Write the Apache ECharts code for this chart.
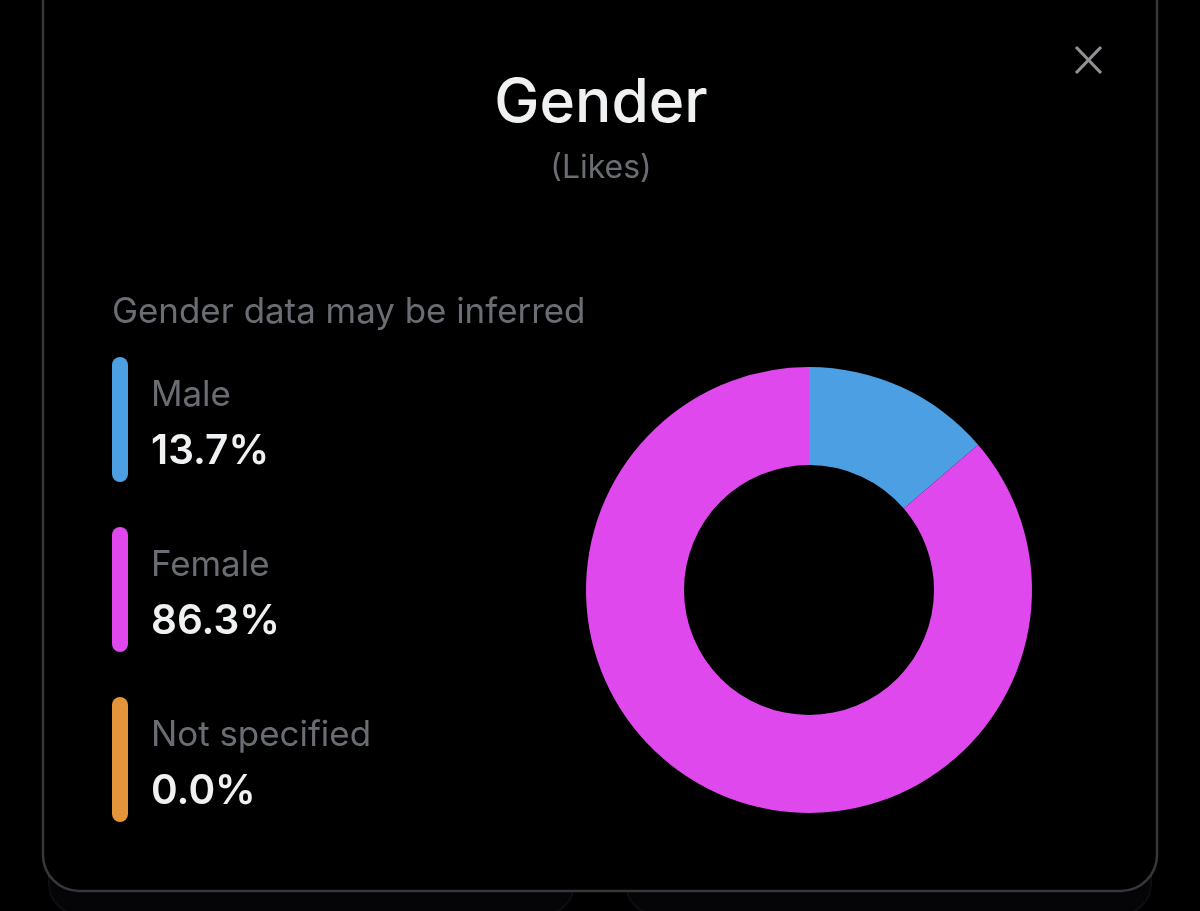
<!DOCTYPE html>
<html>
<head>
<meta charset="utf-8">
<style>
  html, body { margin: 0; padding: 0; background: #000; }
  #main { width: 1200px; height: 911px; }
</style>
<script src="https://cdn.jsdelivr.net/npm/echarts@6/dist/echarts.min.js"></script>
</head>
<body>
<div id="main"></div>
<script>
var categories = ['Male', 'Female', 'Not specified'];
var shares = [13.7, 86.3, 0.0];
var colors = ['#4c9fe3', '#df48ec', '#e4953c'];

var chart = echarts.init(document.getElementById('main'));
var font = 'Inter, "Noto Sans", sans-serif';
var graphic = [];

// cards peeking out under the dialog
graphic.push({ type: 'rect', z: 0, shape: { x: 49, y: 800, width: 525, height: 114, r: 30 },
  style: { fill: '#050507', stroke: '#0c0d10', lineWidth: 2 } });
graphic.push({ type: 'rect', z: 0, shape: { x: 626, y: 800, width: 525, height: 114, r: 30 },
  style: { fill: '#050507', stroke: '#0c0d10', lineWidth: 2 } });
// dialog
graphic.push({ type: 'rect', z: 1, shape: { x: 43, y: -40, width: 1114, height: 931, r: 36 },
  style: { fill: '#000', stroke: '#35373b', lineWidth: 2.5 } });

// close icon
graphic.push({ type: 'line', z: 2, shape: { x1: 1076, y1: 47, x2: 1101, y2: 73 },
  style: { stroke: '#8f9194', lineWidth: 3.2 } });
graphic.push({ type: 'line', z: 2, shape: { x1: 1101, y1: 47, x2: 1076, y2: 73 },
  style: { stroke: '#8f9194', lineWidth: 3.2 } });

graphic.push({ type: 'text', z: 2, x: 112, y: 313, style: {
  text: 'Gender data may be inferred', fill: '#6a6e74', font: '400 34.9px ' + font, textVerticalAlign: 'middle' } });

categories.forEach(function (name, i) {
  var top = 357 + i * 170;
  graphic.push({ type: 'rect', z: 2, shape: { x: 112, y: top, width: 16, height: 125, r: 8 },
    style: { fill: colors[i] } });
  graphic.push({ type: 'text', z: 2, x: 151, y: top + 38.5, style: {
    text: name, fill: '#6a6e74', font: '400 34.9px ' + font, textVerticalAlign: 'middle' } });
  graphic.push({ type: 'text', z: 2, x: 151, y: top + 95, style: {
    text: shares[i].toFixed(1) + '%', fill: '#eff1f2', font: '600 40.5px ' + font, textVerticalAlign: 'middle' } });
});

var option = {
  backgroundColor: '#000',
  animation: false,
  title: {
    text: 'Gender',
    subtext: '(Likes)',
    left: 596,
    top: 68,
    textAlign: 'center',
    itemGap: 18,
    textStyle: { color: '#eff1f2', fontFamily: font, fontSize: 60.5, fontWeight: 500 },
    subtextStyle: { color: '#6a6e74', fontFamily: font, fontSize: 32, fontWeight: 400 },
    z: 5
  },
  graphic: graphic,
  series: [{
    type: 'pie',
    z: 5,
    center: [809, 590],
    radius: [125, 223],
    startAngle: 90,
    clockwise: true,
    silent: true,
    label: { show: false },
    labelLine: { show: false },
    data: categories.map(function (name, i) {
      return { name: name, value: shares[i], itemStyle: { color: colors[i] } };
    })
  }]
};

chart.setOption(option);
</script>
</body>
</html>
